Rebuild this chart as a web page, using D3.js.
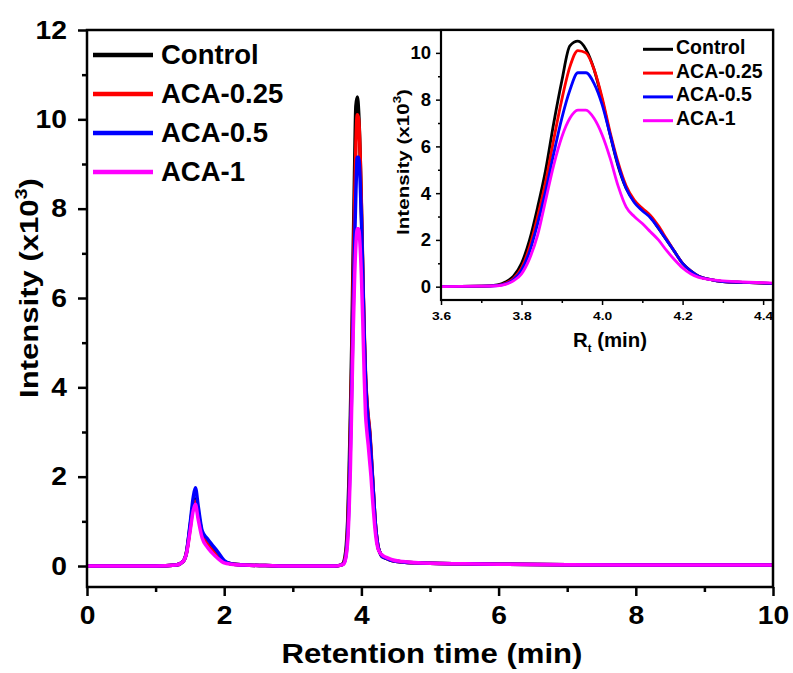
<!DOCTYPE html>
<html>
<head>
<meta charset="utf-8">
<script src="https://cdn.jsdelivr.net/npm/d3@7"></script>
<style>
  body { margin: 0; background: #fff; }
  text { font-family: "Liberation Sans", Arial, sans-serif; font-weight: bold; fill: #000; }
</style>
</head>
<body>
<svg id="chart" width="793" height="673"></svg>
<script>
// Retention time (min) sampling shared by all traces
const time = [0, 0.5, 1.0, 1.3, 1.4, 1.45, 1.5, 1.55, 1.58, 1.62,
  1.68, 1.75, 1.82, 1.9, 2.0, 2.1, 2.3, 2.6, 3.0, 3.4,
  3.6, 3.7, 3.74, 3.76, 3.78, 3.80, 3.82, 3.84, 3.86, 3.88,
  3.90, 3.92, 3.94, 3.96, 3.98, 4.00, 4.02, 4.04, 4.06, 4.08,
  4.10, 4.12, 4.14, 4.16, 4.18, 4.20, 4.22, 4.24, 4.27, 4.30,
  4.35, 4.40, 4.45, 4.6, 5.0, 5.5, 6.0, 7.0, 8.0, 9.0, 10.0];

// Intensity (x10^3)
const control = [0, 0, 0, 0.02, 0.1, 0.3, 0.85, 1.4, 1.5, 1.2,
  0.72, 0.5, 0.38, 0.24, 0.1, 0.05, 0.02, 0.01, 0, 0,
  0, 0.02, 0.08, 0.2, 0.45, 1.0, 2.0, 3.4, 5.0, 7.0,
  8.8, 10.3, 10.5, 10.15, 9.3, 8.0, 6.5, 5.15, 4.2, 3.65,
  3.3, 3.0, 2.5, 2.0, 1.5, 1.0, 0.68, 0.45, 0.3, 0.22,
  0.18, 0.15, 0.12, 0.09, 0.06, 0.05, 0.04, 0.03, 0.02, 0.02, 0.02];
const aca025 = [0, 0, 0, 0.02, 0.1, 0.3, 0.8, 1.35, 1.45, 1.15,
  0.7, 0.5, 0.36, 0.22, 0.09, 0.05, 0.02, 0.01, 0, 0,
  0, 0.02, 0.06, 0.15, 0.35, 0.8, 1.7, 3.0, 4.5, 6.3,
  8.0, 9.4, 10.1, 10.0, 9.3, 8.1, 6.6, 5.3, 4.3, 3.7,
  3.35, 3.05, 2.6, 2.05, 1.5, 1.0, 0.68, 0.45, 0.3, 0.22,
  0.18, 0.15, 0.12, 0.09, 0.06, 0.05, 0.04, 0.03, 0.02, 0.02, 0.02];
const aca05 = [0, 0, 0, 0.02, 0.1, 0.3, 0.9, 1.55, 1.75, 1.35,
  0.78, 0.62, 0.48, 0.33, 0.12, 0.05, 0.02, 0.01, 0, 0,
  0, 0.02, 0.05, 0.12, 0.3, 0.7, 1.5, 2.7, 4.1, 5.7,
  7.2, 8.4, 9.15, 9.15, 8.7, 7.8, 6.5, 5.2, 4.2, 3.6,
  3.25, 2.95, 2.5, 2.0, 1.5, 1.0, 0.68, 0.45, 0.3, 0.22,
  0.18, 0.15, 0.12, 0.09, 0.06, 0.05, 0.04, 0.03, 0.02, 0.02, 0.02];
const aca1 = [0, 0, 0, 0.02, 0.1, 0.28, 0.75, 1.25, 1.38, 1.05,
  0.62, 0.43, 0.3, 0.18, 0.07, 0.04, 0.02, 0.01, 0, 0,
  0, 0.02, 0.04, 0.1, 0.25, 0.55, 1.2, 2.2, 3.7, 5.2,
  6.4, 7.2, 7.55, 7.55, 7.2, 6.5, 5.5, 4.3, 3.4, 3.0,
  2.7, 2.35, 2.0, 1.55, 1.15, 0.8, 0.55, 0.4, 0.3, 0.25,
  0.2, 0.17, 0.14, 0.1, 0.06, 0.05, 0.04, 0.03, 0.02, 0.02, 0.02];

const seriesNames = ["Control", "ACA-0.25", "ACA-0.5", "ACA-1"];
const seriesValues = [control, aca025, aca05, aca1];
const seriesColors = ["#000000", "#ff0000", "#0000ff", "#ff00ff"];

const mainXTicks = [0, 2, 4, 6, 8, 10];
const mainXMinor = [1, 3, 5, 7, 9];
const mainYTicks = [0, 2, 4, 6, 8, 10, 12];
const mainYMinor = [1, 3, 5, 7, 9, 11];
const insetXTicks = [3.6, 3.8, 4.0, 4.2, 4.4];
const insetXMinor = [3.7, 3.9, 4.1, 4.3];
const insetYTicks = [0, 2, 4, 6, 8, 10];
const insetYMinor = [1, 3, 5, 7, 9, 11];

const series = seriesNames.map((name, i) => ({
  name,
  color: seriesColors[i],
  points: time.map((t, j) => ({ t, v: seriesValues[i][j] }))
}));

const svg = d3.select("#chart");

// widen glyphs of tick labels a little (wide bold face)
function widen(sel, factor) {
  sel.each(function () {
    const w = this.getComputedTextLength();
    d3.select(this).attr("textLength", w * factor).attr("lengthAdjust", "spacingAndGlyphs");
  });
}

function styleAxis(g, width) {
  g.select(".domain").remove();
  g.selectAll(".tick line").attr("stroke", "#000").attr("stroke-width", width);
}

// title text centred at (cx, cy), rotated, stretched along its run to a given length
function title(cx, cy, angle, size, parts, length) {
  const g = svg.append("g");
  const t = g.append("text").attr("text-anchor", "middle").style("font-size", size + "px");
  parts.forEach(p => {
    const s = t.append("tspan").text(p.text);
    if (p.dy) s.attr("dy", p.dy);
    if (p.size) s.style("font-size", p.size + "px");
  });
  const w = t.node().getBBox().width;
  g.attr("transform", `translate(${cx},${cy}) rotate(${angle}) scale(${length / w},1)`);
  return g;
}

// ---------- main panel ----------
const M = { left: 87, right: 773, top: 30, bottom: 587 };
const x = d3.scaleLinear().domain([0, 10]).range([M.left, M.right]);
const y = d3.scaleLinear().domain([-0.47, 12]).range([M.bottom, M.top]);

svg.append("clipPath").attr("id", "mainClip")
  .append("rect").attr("x", M.left).attr("y", M.top)
  .attr("width", M.right - M.left).attr("height", M.bottom - M.top);

const xMajor = svg.append("g").attr("transform", `translate(0,${M.bottom})`)
  .call(d3.axisBottom(x).tickValues(mainXTicks).tickSize(9).tickPadding(10).tickFormat(d3.format("d")));
styleAxis(xMajor, 2.5);
xMajor.selectAll("text").style("font-size", "25px").attr("font-family", null);
widen(xMajor.selectAll("text"), 1.13);
const xMin = svg.append("g").attr("transform", `translate(0,${M.bottom})`)
  .call(d3.axisBottom(x).tickValues(mainXMinor).tickSize(5).tickFormat(""));
styleAxis(xMin, 2.5);

const yMajor = svg.append("g").attr("transform", `translate(${M.left},0)`)
  .call(d3.axisLeft(y).tickValues(mainYTicks).tickSize(9).tickPadding(11).tickFormat(d3.format("d")));
styleAxis(yMajor, 2.5);
yMajor.selectAll("text").style("font-size", "25px").attr("font-family", null);
widen(yMajor.selectAll("text"), 1.13);
const yMin = svg.append("g").attr("transform", `translate(${M.left},0)`)
  .call(d3.axisLeft(y).tickValues(mainYMinor).tickSize(5).tickFormat(""));
styleAxis(yMin, 2.5);

const lineMain = d3.line().x(d => x(d.t)).y(d => y(d.v)).curve(d3.curveMonotoneX);
svg.append("g").attr("clip-path", "url(#mainClip)")
  .selectAll("path").data(series).join("path")
  .attr("d", d => lineMain(d.points))
  .attr("fill", "none").attr("stroke", d => d.color)
  .attr("stroke-width", 3.5).attr("stroke-linejoin", "round");

svg.append("rect").attr("x", M.left).attr("y", M.top)
  .attr("width", M.right - M.left).attr("height", M.bottom - M.top)
  .attr("fill", "none").attr("stroke", "#000").attr("stroke-width", 2.5);

// main legend
const legMain = svg.append("g");
series.forEach((s, i) => {
  const ly = 55 + i * 39;
  legMain.append("line").attr("x1", 93).attr("x2", 153).attr("y1", ly).attr("y2", ly)
    .attr("stroke", s.color).attr("stroke-width", 4.5);
  legMain.append("text").attr("x", 161).attr("y", ly + 8.5)
    .style("font-size", "27.5px").text(s.name);
});

// axis titles
title(432, 663, 0, 28, [{ text: "Retention time (min)" }], 301);
title(38, 288, -90, 25, [
  { text: "Intensity (x10" },
  { text: "3", dy: -11, size: 16 },
  { text: ")", dy: 11 }
], 220);

// ---------- inset ----------
const I = { left: 441, right: 773, top: 30, bottom: 300 };
const xi = d3.scaleLinear().domain([3.6, 4.427]).range([I.left, 774]);
const yi = d3.scaleLinear().domain([-0.57, 11.0]).range([I.bottom, 29.5]);

svg.append("rect").attr("x", I.left).attr("y", I.top)
  .attr("width", I.right - I.left).attr("height", I.bottom - I.top).attr("fill", "#fff");

svg.append("clipPath").attr("id", "insetClip")
  .append("rect").attr("x", I.left).attr("y", I.top)
  .attr("width", I.right - I.left).attr("height", I.bottom - I.top);

const xiMajor = svg.append("g").attr("transform", `translate(0,${I.bottom})`)
  .call(d3.axisBottom(xi).tickValues(insetXTicks).tickSize(5).tickPadding(7).tickFormat(d3.format(".1f")));
styleAxis(xiMajor, 1.5);
xiMajor.selectAll("text").style("font-size", "11.5px").attr("font-family", null);
widen(xiMajor.selectAll("text"), 1.2);
const xiMin = svg.append("g").attr("transform", `translate(0,${I.bottom})`)
  .call(d3.axisBottom(xi).tickValues(insetXMinor).tickSize(3).tickFormat(""));
styleAxis(xiMin, 1.5);

const yiMajor = svg.append("g").attr("transform", `translate(${I.left},0)`)
  .call(d3.axisLeft(yi).tickValues(insetYTicks).tickSize(5).tickPadding(5).tickFormat(d3.format("d")));
styleAxis(yiMajor, 1.5);
yiMajor.selectAll("text").style("font-size", "18.5px").attr("font-family", null);
const yiMin = svg.append("g").attr("transform", `translate(${I.left},0)`)
  .call(d3.axisLeft(yi).tickValues(insetYMinor).tickSize(3).tickFormat(""));
styleAxis(yiMin, 1.5);

const lineInset = d3.line().x(d => xi(d.t)).y(d => yi(d.v)).curve(d3.curveMonotoneX);
svg.append("g").attr("clip-path", "url(#insetClip)")
  .selectAll("path").data(series).join("path")
  .attr("d", d => lineInset(d.points))
  .attr("fill", "none").attr("stroke", d => d.color)
  .attr("stroke-width", 2.8).attr("stroke-linejoin", "round");

svg.append("rect").attr("x", I.left).attr("y", I.top)
  .attr("width", I.right - I.left).attr("height", I.bottom - I.top)
  .attr("fill", "none").attr("stroke", "#000").attr("stroke-width", 2.2);

// inset legend
const legInset = svg.append("g");
series.forEach((s, i) => {
  const ly = 49.3 + i * 23.8;
  legInset.append("line").attr("x1", 643).attr("x2", 673).attr("y1", ly).attr("y2", ly)
    .attr("stroke", s.color).attr("stroke-width", 3);
  legInset.append("text").attr("x", 676).attr("y", ly + 4.5)
    .style("font-size", "19.5px").text(s.name);
});

// inset axis titles
title(610, 347, 0, 20, [
  { text: "R" },
  { text: "t", dy: 5, size: 11 },
  { text: " (min)", dy: -5 }
], 74);
title(409, 162, -90, 17, [
  { text: "Intensity (x10" },
  { text: "3", dy: -8, size: 11 },
  { text: ")", dy: 8 }
], 146);
</script>
</body>
</html>
